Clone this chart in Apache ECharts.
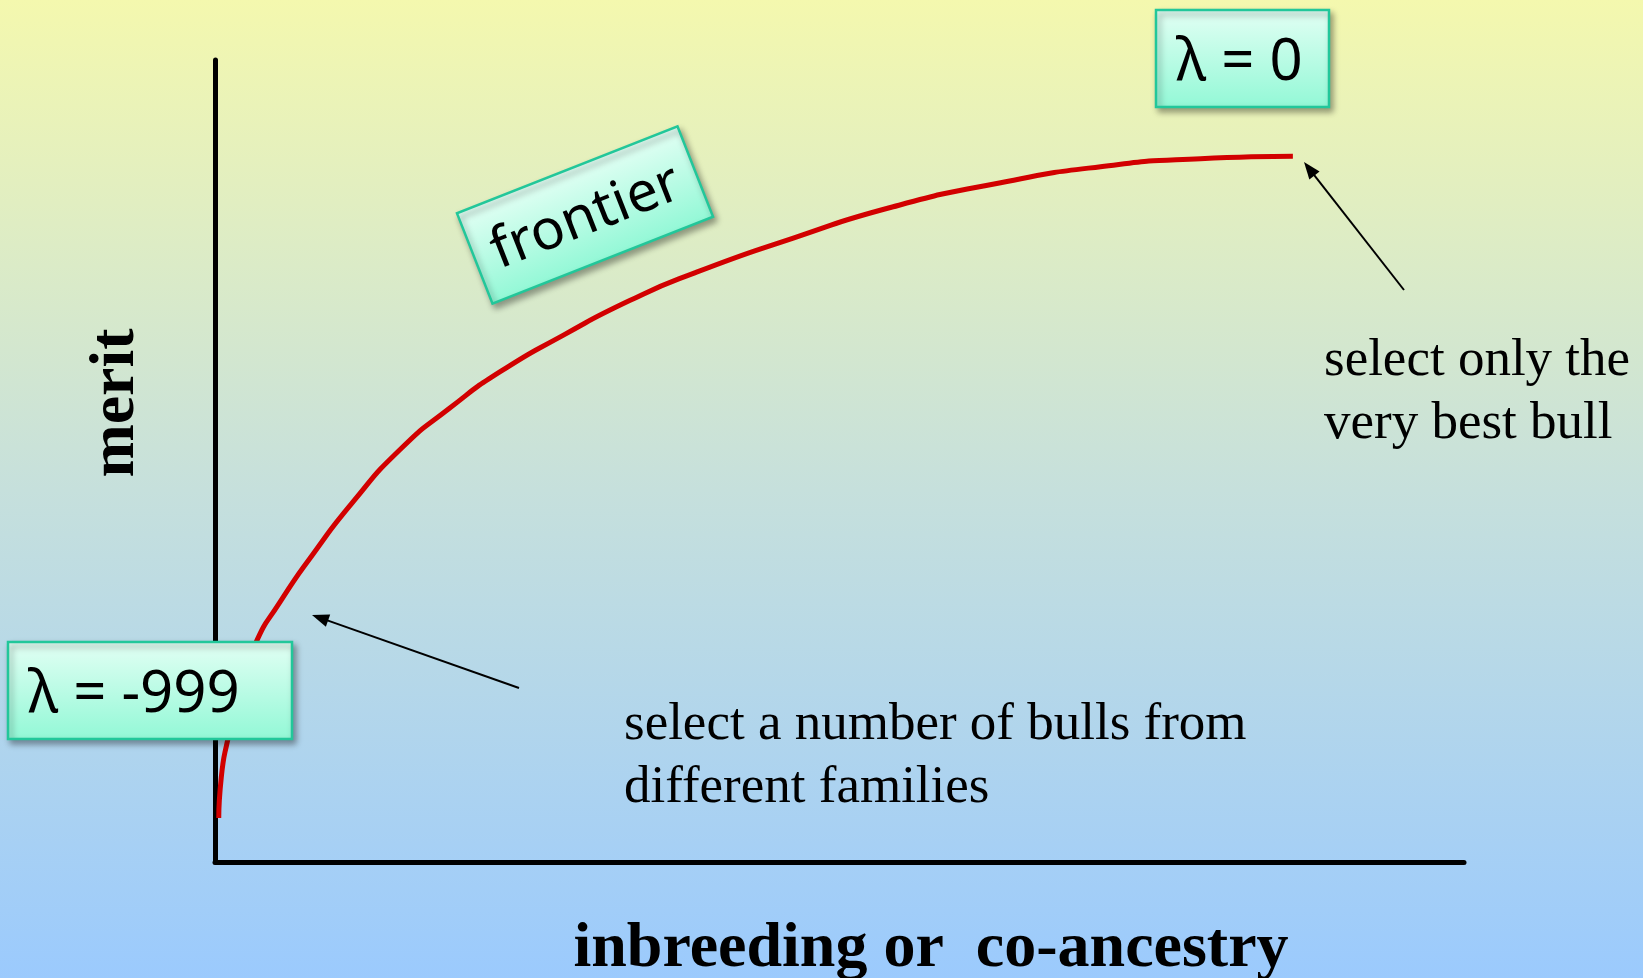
<!DOCTYPE html>
<html>
<head>
<meta charset="utf-8">
<title>frontier</title>
<script src="https://cdn.jsdelivr.net/npm/echarts@6/dist/echarts.min.js"></script>
<style>
  html, body { margin: 0; padding: 0; }
  #chart { width: 1643px; height: 978px; }
</style>
</head>
<body>
<div id="chart"></div>
<script>
// frontier curve (axis units 0..100)
const coancestry = [0.3, 0.5, 1.0, 2.0, 3.2, 5.2, 7.9, 11.0, 14.8, 18.8, 22.8, 27.9, 33.2, 38.3, 46.3, 54.3, 62.9, 70.9, 78.9, 86.3]
const merit = [5.5, 10.5, 15.1, 21.4, 27.1, 32.4, 38.5, 44.8, 51.4, 56.6, 61.1, 65.7, 70.0, 73.4, 77.8, 81.7, 84.7, 86.7, 87.7, 88.0]

const xTitle = 'inbreeding or  co-ancestry'
const yTitle = 'merit'
const curveLabel = 'frontier'
const lambdaLow = 'λ = -999'
const lambdaHigh = 'λ = 0'
const noteLow = 'select a number of bulls from\ndifferent families'
const noteHigh = 'select only the\nvery best bull'

const SERIF = '"Liberation Serif", "Times New Roman", serif'
const SANS = '"Noto Sans", "Open Sans", sans-serif'

const boxFill = {
  type: 'linear', x: 0, y: 0, x2: 0, y2: 1,
  colorStops: [
    { offset: 0, color: '#e3fff4' },
    { offset: 1, color: '#92f8d6' },
  ],
}

function boxStyle() {
  return {
    fill: boxFill,
    stroke: '#22c79a',
    lineWidth: 2.5,
    shadowBlur: 6,
    shadowOffsetX: 3,
    shadowOffsetY: 4,
    shadowColor: 'rgba(0,0,0,0.35)',
  }
}

function labelBox(x, y, w, h, text, size, textX) {
  return {
    type: 'group', x, y, z: 100,
    children: [
      { type: 'rect', z: 100, shape: { x: 0, y: 0, width: w, height: h }, style: boxStyle() },
      {
        type: 'text', z: 101,
        style: { x: textX, y: h / 2 + 5, text, fontSize: size, fontFamily: SANS, fill: '#000', verticalAlign: 'middle' },
      },
    ],
  }
}

function arrow(x1, y1, x2, y2) {
  const dx = x2 - x1, dy = y2 - y1
  const len = Math.hypot(dx, dy)
  const ux = dx / len, uy = dy / len
  const hl = 17, hw = 6.5
  const bx = x2 - ux * hl, by = y2 - uy * hl
  return {
    type: 'group', z: 100,
    children: [
      { type: 'line', z: 100, shape: { x1, y1, x2: bx + ux * 3, y2: by + uy * 3 }, style: { stroke: '#000', lineWidth: 2 } },
      {
        type: 'polygon', z: 100,
        shape: { points: [[x2, y2], [bx - uy * hw, by + ux * hw], [bx + uy * hw, by - ux * hw]] },
        style: { fill: '#000' },
      },
    ],
  }
}

const chart = echarts.init(document.getElementById('chart'))

const axisCommon = {
  type: 'value',
  min: 0,
  max: 100,
  axisLine: { show: true, onZero: false, lineStyle: { color: '#000', width: 5 } },
  axisTick: { show: false },
  axisLabel: { show: false },
  splitLine: { show: false },
}

chart.setOption({
  animation: false,
  backgroundColor: {
    type: 'linear', x: 0, y: 0, x2: 0, y2: 1,
    colorStops: [
      { offset: 0, color: '#f4f8ae' },
      { offset: 0.5, color: '#c6e0dc' },
      { offset: 1, color: '#9bcafd' },
    ],
  },
  grid: { left: 215, right: 179, top: 60, bottom: 116 },
  xAxis: axisCommon,
  yAxis: axisCommon,
  series: [
    {
      type: 'line',
      data: coancestry.map((x, i) => [x, merit[i]]),
      smooth: 0.6,
      showSymbol: false,
      silent: true,
      z: 2,
      lineStyle: { color: '#d20000', width: 5, cap: 'butt' },
    },
  ],
  graphic: [
    {
      type: 'text', z: 100,
      style: { x: 931, y: 949, text: xTitle, align: 'center', verticalAlign: 'middle', fontSize: 64, fontWeight: 'bold', fontFamily: SERIF, fill: '#000' },
    },
    {
      type: 'text', z: 100, x: 116, y: 403, rotation: Math.PI / 2,
      style: { x: 0, y: 0, text: yTitle, align: 'center', verticalAlign: 'middle', fontSize: 64, fontWeight: 'bold', fontFamily: SERIF, fill: '#000' },
    },
    {
      type: 'text', z: 100,
      style: { x: 1324, y: 330, text: noteHigh, lineHeight: 63, verticalAlign: 'top', fontSize: 53, fontFamily: SERIF, fill: '#000' },
    },
    {
      type: 'text', z: 100,
      style: { x: 624, y: 694, text: noteLow, lineHeight: 63, verticalAlign: 'top', fontSize: 53, fontFamily: SERIF, fill: '#000' },
    },
    labelBox(1156, 10, 173, 97, lambdaHigh, 58, 20),
    labelBox(8, 642, 284, 97, lambdaLow, 58, 20),
    {
      type: 'group', x: 585, y: 215, rotation: 0.375, z: 100,
      children: [
        { type: 'rect', z: 100, shape: { x: -118.5, y: -48.5, width: 237, height: 97 }, style: boxStyle() },
        {
          type: 'text', z: 101,
          style: { x: 0, y: 3, text: curveLabel, align: 'center', verticalAlign: 'middle', fontSize: 56, fontFamily: SANS, fill: '#000' },
        },
      ],
    },
    arrow(1404, 290, 1304, 162),
    arrow(519, 688, 312, 615),
  ],
})

window.addEventListener('resize', () => chart.resize())
</script>
</body>
</html>
